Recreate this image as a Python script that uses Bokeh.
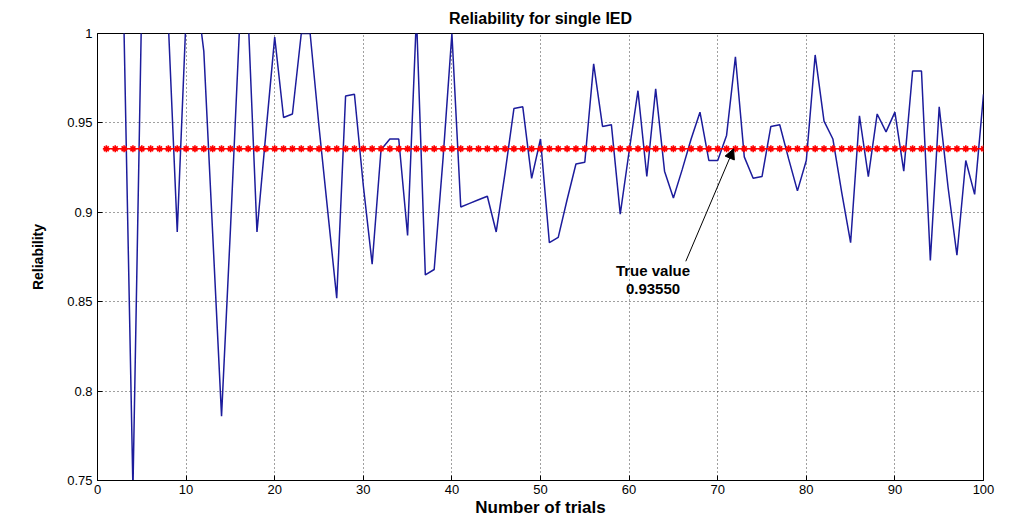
from bokeh.plotting import figure
from bokeh.models import Range1d, FixedTicker, Arrow, NormalHead, Label
from bokeh.embed import file_html
from bokeh.resources import INLINE

# ---- data ----
trials = list(range(1, 101))
reliability = [
    1.04, 1.03, 1.00, 0.745, 1.02, 1.03, 1.02, 1.005, 0.889, 1.01,
    1.03, 0.99, 0.888, 0.786, 0.89, 1.00, 1.01, 0.889, 0.944, 0.998,
    0.953, 0.955, 1.00, 1.00, 0.948, 0.900, 0.852, 0.965, 0.966, 0.915,
    0.871, 0.935, 0.941, 0.941, 0.887, 1.01, 0.865, 0.868, 0.930, 1.00,
    0.903, 0.905, 0.907, 0.909, 0.889, 0.922, 0.958, 0.959, 0.919, 0.941,
    0.883, 0.886, 0.907, 0.927, 0.928, 0.983, 0.948, 0.949, 0.899, 0.934,
    0.968, 0.920, 0.969, 0.923, 0.908, 0.924, 0.941, 0.956, 0.929, 0.929,
    0.943, 0.987, 0.931, 0.919, 0.920, 0.948, 0.949, 0.930, 0.912, 0.929,
    0.988, 0.951, 0.941, 0.911, 0.883, 0.954, 0.920, 0.955, 0.945, 0.956,
    0.923, 0.979, 0.979, 0.873, 0.959, 0.914, 0.876, 0.929, 0.910, 0.966,
]
true_value = 0.93550
true_line = [true_value] * len(trials)

x_ticks = [0, 10, 20, 30, 40, 50, 60, 70, 80, 90, 100]
y_ticks = [0.75, 0.8, 0.85, 0.9, 0.95, 1.0]
y_tick_labels = ["0.75", "0.8", "0.85", "0.9", "0.95", "1"]

title_text = "Reliability for single IED"
x_label = "Number of trials"
y_label = "Reliability"
annot_line1 = "True value"
annot_line2 = "0.93550"
# annotation anchor (data units)
annot_text_x, annot_text_y1, annot_text_y2 = 62.7, 0.8676, 0.8570
arrow_start = (66.4, 0.8726)
arrow_end = (71.8, true_value)

FONT = "Liberation Sans"

p = figure(width=1009, height=519, output_backend="svg", toolbar_location=None,
           x_range=Range1d(0, 100), y_range=Range1d(0.75, 1.0),
           title=title_text,
           min_border_left=97, min_border_right=26, min_border_top=33,
           min_border_bottom=39)

p.background_fill_color = "white"
p.border_fill_color = "white"
p.outline_line_color = "black"
p.outline_line_width = 1

p.title.align = "center"
p.title.text_font = FONT
p.title.text_font_size = "16px"
p.title.text_font_style = "bold"
p.title.text_color = "black"
p.title.offset = 0
p.title.standoff = 13

for ax in (p.xaxis[0], p.yaxis[0]):
    ax.major_tick_in = 5
    ax.major_tick_out = 0
    ax.minor_tick_in = 0
    ax.minor_tick_out = 0
    ax.axis_line_color = "black"
    ax.major_tick_line_color = "black"
    ax.major_label_text_font = FONT
    ax.major_label_text_font_size = "13px"
    ax.major_label_text_color = "black"
    ax.axis_label_text_font = FONT
    ax.axis_label_text_font_style = "bold"
    ax.axis_label_text_color = "black"

p.xaxis.ticker = FixedTicker(ticks=x_ticks)
p.yaxis.ticker = FixedTicker(ticks=y_ticks)
p.yaxis.major_label_overrides = {t: s for t, s in zip(y_ticks, y_tick_labels)}
p.xaxis.axis_label = x_label
p.yaxis.axis_label = y_label
p.xaxis.axis_label_text_font_size = "17px"
p.yaxis.axis_label_text_font_size = "14px"
p.xaxis.major_label_standoff = 4
p.xaxis.axis_label_standoff = 1
p.yaxis.major_label_standoff = 5
p.yaxis.axis_label_standoff = 18

for g in (p.xgrid[0], p.ygrid[0]):
    g.grid_line_color = "black"
    g.grid_line_dash = "1 3"
    g.grid_line_width = 1
    g.grid_line_alpha = 0.75
p.xgrid.ticker = FixedTicker(ticks=x_ticks)
p.ygrid.ticker = FixedTicker(ticks=y_ticks)

# series
p.line(trials, reliability, line_color="#1c1c9c", line_width=1.5)
p.line(trials, true_line, line_color="red", line_width=1.5)
p.scatter(trials, true_line, marker="asterisk", size=7, line_color="red", line_width=1.6)

# annotation
p.add_layout(Arrow(end=NormalHead(size=10, fill_color="black", line_color="black"),
                   x_start=arrow_start[0], y_start=arrow_start[1],
                   x_end=arrow_end[0], y_end=arrow_end[1],
                   line_color="black", line_width=1))
for txt, yy in ((annot_line1, annot_text_y1), (annot_line2, annot_text_y2)):
    p.add_layout(Label(x=annot_text_x, y=yy, text=txt, text_align="center",
                       text_baseline="middle", text_font=FONT,
                       text_font_style="bold", text_font_size="15px",
                       text_color="black"))

open("out.html", "w").write(file_html(p, INLINE))
